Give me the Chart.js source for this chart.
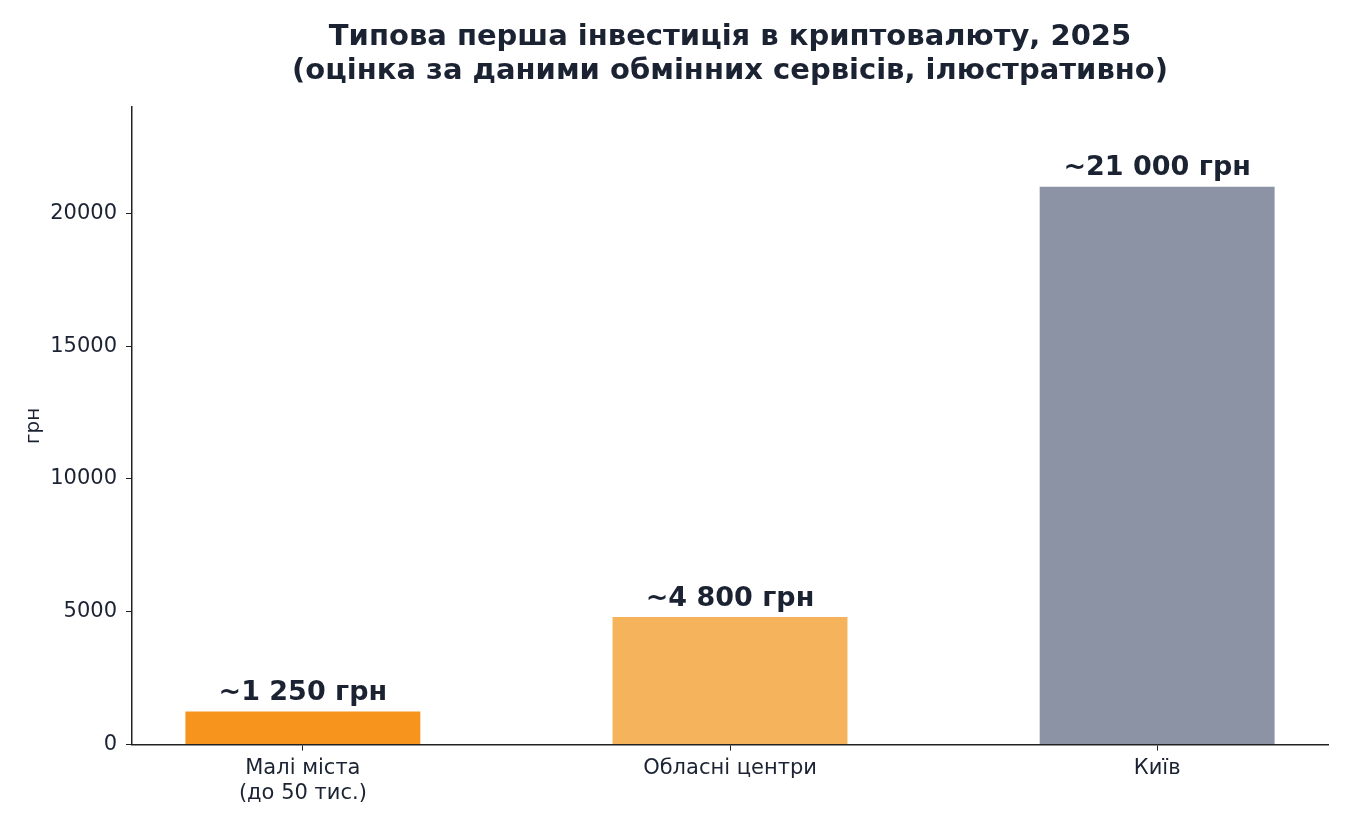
<!DOCTYPE html>
<html>
<head>
<meta charset="utf-8">
<script src="https://cdn.jsdelivr.net/npm/chart.js@4"></script>
<style>
  html, body { margin: 0; padding: 0; background: #fff; }
  #wrap { width: 1350px; height: 825px; }
</style>
</head>
<body>
<div id="wrap"><canvas id="cryptoChart" width="1350" height="825"></canvas></div>
<script>
// chart data
const categories = [['Малі міста', '(до 50 тис.)'], 'Обласні центри', 'Київ'];
const amounts = [1250, 4800, 21000];
const barLabels = ['~1 250 грн', '~4 800 грн', '~21 000 грн'];
const barColors = ['#F7941D', '#F5B35C', '#8B93A5'];
const yTicks = [0, 5000, 10000, 15000, 20000];
const titleLines = ['Типова перша інвестиція в криптовалюту, 2025', '(оцінка за даними обмінних сервісів, ілюстративно)'];

const textColor = '#1b2333';
const font = 'DejaVu Sans';

// title centred over the plot area (like matplotlib), plus value labels above bars
const annotations = {
  id: 'annotations',
  afterDraw(chart) {
    const ctx = chart.ctx;
    const area = chart.chartArea;
    ctx.save();
    ctx.fillStyle = textColor;
    ctx.textAlign = 'center';
    ctx.textBaseline = 'alphabetic';
    ctx.font = 'bold 29px "' + font + '"';
    const cx = (area.left + area.right) / 2;
    titleLines.forEach((t, i) => ctx.fillText(t, cx, 45 + i * 34));

    ctx.font = 'bold 27px "' + font + '"';
    ctx.textBaseline = 'bottom';
    const meta = chart.getDatasetMeta(0);
    meta.data.forEach((bar, i) => {
      ctx.fillText(barLabels[i], bar.x, bar.y - 5);
    });
    ctx.restore();
  }
};

const ctx = document.getElementById('cryptoChart');

new Chart(ctx, {
  type: 'bar',
  data: {
    datasets: [{
      data: amounts.map((v, i) => ({ x: i, y: v })),
      backgroundColor: barColors,
      borderWidth: 0,
      barPercentage: 0.55,
      categoryPercentage: 1
    }]
  },
  options: {
    responsive: false,
    animation: false,
    layout: { padding: { left: 0, right: 22, top: 107, bottom: 14 } },
    plugins: {
      legend: { display: false },
      tooltip: { enabled: false },
      title: { display: false }
    },
    scales: {
      x: {
        type: 'linear',
        offset: false,
        min: -0.4,
        max: 2.4,
        afterBuildTicks: (scale) => { scale.ticks = categories.map((c, i) => ({ value: i })); },
        ticks: {
          callback: (v) => categories[v],
          color: textColor,
          font: { family: font, size: 21 },
          padding: 5,
          maxRotation: 0
        },
        grid: { display: true, offset: false, drawOnChartArea: false, drawTicks: true, tickLength: 6, color: '#222' },
        border: { display: true, color: '#222', width: 1.5 }
      },
      y: {
        min: 0,
        max: 24000,
        afterBuildTicks: (scale) => { scale.ticks = yTicks.map(v => ({ value: v })); },
        afterFit: (scale) => { scale.width = 132; },
        ticks: {
          callback: (v) => String(v),
          color: textColor,
          font: { family: font, size: 21 },
          padding: 9
        },
        grid: { display: true, drawOnChartArea: false, drawTicks: true, tickLength: 6, color: '#222' },
        border: { display: true, color: '#222', width: 1.5 },
        title: {
          display: true,
          text: 'грн',
          color: textColor,
          font: { family: font, size: 20 },
          padding: { top: 22, bottom: 0 }
        }
      }
    }
  },
  plugins: [annotations]
});
</script>
</body>
</html>
